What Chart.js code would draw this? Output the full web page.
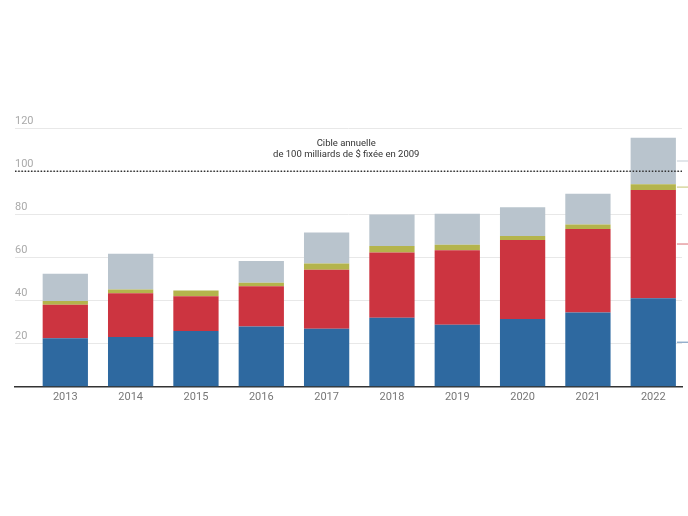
<!DOCTYPE html>
<html>
<head>
<meta charset="utf-8">
<script src="https://cdn.jsdelivr.net/npm/chart.js@4/dist/chart.umd.min.js"></script>
<style>
  html, body { margin: 0; padding: 0; background: #fff; }
  #wrap { width: 688px; height: 516px; }
</style>
</head>
<body>
<div id="wrap"><canvas id="c" width="688" height="516"></canvas></div>
<script>
const years = [2013, 2014, 2015, 2016, 2017, 2018, 2019, 2020, 2021, 2022];
const bilateral = [22.5, 23.1, 25.9, 28.0, 26.9, 32.0, 28.8, 31.4, 34.5, 41.1];
const multilateral = [15.6, 20.3, 16.1, 18.6, 27.4, 30.3, 34.5, 36.7, 38.7, 50.2];
const exportCredits = [1.7, 1.7, 2.6, 1.7, 2.9, 3.0, 2.6, 1.8, 2.0, 2.6];
const privateMobilised = [12.6, 16.6, null, 10.0, 14.3, 14.6, 14.3, 13.3, 14.3, 21.6];
const yTicks = [0, 20, 40, 60, 80, 100, 120];
const targetValue = 100;
const targetLines = ["Cible annuelle", "de 100 milliards de $ fixée en 2009"];

const seriesNames = ["Financements publics bilatéraux", "Financements publics multilatéraux", "Crédits à l'exportation", "Financements privés mobilisés"];
const seriesColors = ["#2e69a0", "#cc3440", "#b4b44c", "#b9c4cd"];
const leaderColors = ["#7f9fc2", "#e0868c", "#cdcd88", "#cfd6dc"];
const seriesData = [bilateral, multilateral, exportCredits, privateMobilised];

const toPoints = arr => years.map((yr, i) => ({ x: yr, y: arr[i] }));

const targetPlugin = {
  id: 'target',
  afterDatasetsDraw(chart) {
    const { ctx, chartArea, scales } = chart;
    const y = scales.y.getPixelForValue(targetValue);
    ctx.save();
    ctx.strokeStyle = '#333';
    ctx.lineWidth = 1.5;
    ctx.setLineDash([1.5, 1.7]);
    ctx.beginPath();
    ctx.moveTo(chartArea.left, y);
    ctx.lineTo(chartArea.right, y);
    ctx.stroke();
    ctx.setLineDash([]);
    ctx.fillStyle = '#333';
    ctx.font = '9.5px Roboto';
    ctx.textAlign = 'center';
    ctx.textBaseline = 'middle';
    const cx = scales.x.getPixelForValue(2017.3);
    ctx.fillText(targetLines[0], cx, y - 28);
    ctx.fillText(targetLines[1], cx, y - 17);
    // leader lines toward right edge
    chart.data.datasets.forEach((ds, i) => {
      const meta = chart.getDatasetMeta(i);
      const el = meta.data[meta.data.length - 1];
      if (!el) return;
      const props = el.getProps(['x', 'y', 'base', 'width'], true);
      const my = (props.y + props.base) / 2;
      ctx.strokeStyle = leaderColors[i];
      ctx.lineWidth = 1.2;
      ctx.beginPath();
      ctx.moveTo(props.x + props.width / 2 + 1, my);
      ctx.lineTo(chart.width, my);
      ctx.stroke();
    });
    ctx.restore();
  }
};

new Chart(document.getElementById('c'), {
  type: 'bar',
  data: {
    datasets: seriesData.map((arr, i) => ({
      label: seriesNames[i],
      data: toPoints(arr),
      backgroundColor: seriesColors[i],
      borderWidth: 0,
      barPercentage: 0.693,
      categoryPercentage: 1.0
    }))
  },
  options: {
    responsive: false,
    animation: false,
    layout: { padding: { left: 15, right: 6, top: 128, bottom: 108 } },
    plugins: { legend: { display: false }, tooltip: { enabled: false } },
    scales: {
      x: {
        type: 'linear',
        offset: false,
        stacked: true,
        min: 2012.23,
        max: 2022.44,
        afterBuildTicks: scale => { scale.ticks = years.map(v => ({ value: v })); },
        grid: { display: false, drawTicks: false, offset: false },
        border: { display: true, color: '#333', width: 1.5 },
        ticks: {
          padding: 4,
          color: '#777',
          font: { family: 'Roboto', size: 11 },
          callback: v => String(v),
          autoSkip: false,
          maxRotation: 0
        }
      },
      y: {
        stacked: true,
        min: 0,
        max: 120,
        afterBuildTicks: scale => { scale.ticks = yTicks.map(v => ({ value: v })); },
        grid: { color: '#e8e8e8', lineWidth: 1, drawTicks: false },
        border: { display: false },
        ticks: {
          mirror: true,
          padding: 0,
          labelOffset: -7,
          color: '#aaa',
          font: { family: 'Roboto', size: 11 },
          callback: v => v === 0 ? '' : String(v)
        }
      }
    }
  },
  plugins: [targetPlugin]
});
</script>
</body>
</html>
